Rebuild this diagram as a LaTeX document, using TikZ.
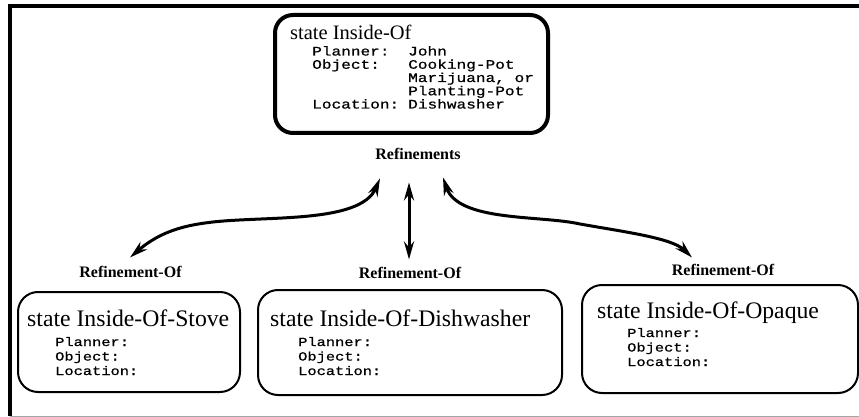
\documentclass[tikz,border=0pt]{standalone}
\usepackage{fontspec}
\setmainfont{Liberation Serif}
\newfontfamily\fieldfont[FakeStretch=1.24,FakeBold=0.8]{Liberation Mono}
\usetikzlibrary{arrows.meta}

\begin{document}
\begin{tikzpicture}[x=1pt, y=-1pt,
  statebox/.style={draw, rounded corners=20pt, line width=2pt, inner sep=0pt},
  ttl/.style={anchor=base west, inner sep=0pt, font=\fontsize{23.7}{28}\selectfont},
  fld/.style={anchor=base west, inner sep=0pt, font=\fieldfont\fontsize{12.4}{15}\selectfont},
  topfld/.style={fld, font=\fieldfont\fontsize{13}{15}\selectfont},
  rel/.style={anchor=base, font=\bfseries\fontsize{16}{19}\selectfont},
  link/.style={line width=3pt, {Stealth[length=18pt,width=10pt]}-{Stealth[length=18pt,width=10pt]}}]

\useasboundingbox (0,0) rectangle (859,417);

% frame
\draw[line width=4pt] (859,6.5) -- (9.5,6.5) -- (9.5,416);
\draw[line width=1pt, black!35] (9.5,416) -- (859,416);

% general state
\node[statebox, line width=4pt, rounded corners=18pt, minimum width=273pt, minimum height=118pt] (inside) at (411.5,74) {};
\node[ttl, font=\fontsize{20.5}{24}\selectfont] (insidettl) at (290,40) {state Inside-Of};
\node[topfld] (insidepl) at (312,55.5) {Planner:};
\node[topfld] (insidepv) at (408,55.5) {John};
\node[topfld] (insideol) at (312,68.75) {Object:};
\node[topfld] (insideov) at (408,68.75) {Cooking-Pot};
\node[topfld] (insideov2) at (408,82) {Marijuana, or};
\node[topfld] (insideov3) at (408,95.25) {Planting-Pot};
\node[topfld] (insidell) at (312,108.5) {Location:};
\node[topfld] (insidelv) at (408,108.5) {Dishwasher};
\node[rel] (refs) at (418,160) {Refinements};

% refinements
\node[statebox, minimum width=222pt, minimum height=100pt] (stove) at (129,342) {};
\node[ttl] (stovettl) at (27,326) {state Inside-Of-Stove};
\node[fld] (stovepl) at (55,346) {Planner:};
\node[fld] (stoveol) at (55,360.5) {Object:};
\node[fld] (stovell) at (55,375) {Location:};

\node[statebox, minimum width=304pt, minimum height=105pt] (dish) at (410,342.5) {};
\node[ttl] (dishttl) at (270,326) {state Inside-Of-Dishwasher};
\node[fld] (dishpl) at (298,346) {Planner:};
\node[fld] (dishol) at (298,360.5) {Object:};
\node[fld] (dishll) at (298,375) {Location:};

\node[statebox, minimum width=276pt, minimum height=108pt] (opaque) at (720,339) {};
\node[ttl] (opaquettl) at (597,318) {state Inside-Of-Opaque};
\node[fld] (opaquepl) at (627,337) {Planner:};
\node[fld] (opaqueol) at (627,351.5) {Object:};
\node[fld] (opaquell) at (627,366) {Location:};

\node[rel] (stoveof) at (130.5,277) {Refinement-Of};
\node[rel] (dishof) at (410,278) {Refinement-Of};
\node[rel] (opaqueof) at (723,275) {Refinement-Of};

% links
\draw[link] ([xshift=-38pt,yshift=-14.7pt]refs.south)
  .. controls (360,225) and (260,215) .. (205,223)
  .. controls (175,227) and (155,236) .. ([xshift=-0.5pt,yshift=4.7pt]stoveof.north);
\draw[link] ([xshift=-9pt,yshift=-18.7pt]refs.south) -- ([xshift=-1pt,yshift=3.7pt]dishof.north);
\draw[link] ([xshift=25pt,yshift=-13.7pt]refs.south)
  .. controls (458,222) and (540,215) .. (580,224)
  .. controls (625,232) and (672,238) .. ([xshift=-31pt,yshift=2.7pt]opaqueof.north);
\end{tikzpicture}
\end{document}
